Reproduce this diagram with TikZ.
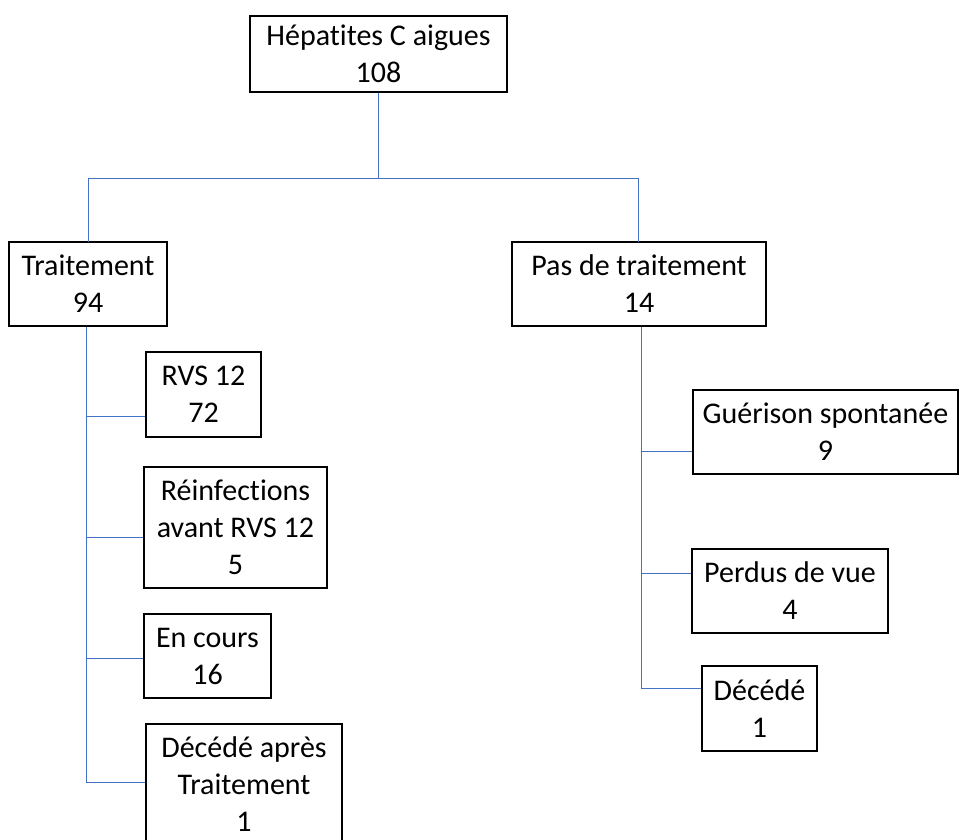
\documentclass[tikz,border=0pt]{standalone}
\usepackage{fontspec}
\setmainfont{Carlito}[Ligatures={NoCommon}]
\definecolor{linkblue}{HTML}{4472C4}
\tikzset{
  box/.style={draw=black, line width=1.1pt, align=center, inner sep=0pt,
    font=\fontsize{30}{37}\selectfont, fill=white},
  link/.style={draw=linkblue, line width=0.8pt}
}
\begin{document}
\begin{tikzpicture}[x=1pt,y=-1pt]
\useasboundingbox (0,0) rectangle (960,839);
\clip (0,0) rectangle (960,839);
% boxes
\node[box, minimum width=257, minimum height=76] (top) at (378.5,54) {Hépatites C aigues\\108};
\node[box, minimum width=158, minimum height=84] (trt) at (88,284) {Traitement\\94};
\node[box, minimum width=254, minimum height=84] (pas) at (639,284) {Pas de traitement\\14};
\node[box, minimum width=115, minimum height=85] (rvs) at (203.5,394.5) {RVS 12\\72};
\node[box, minimum width=183, minimum height=121] (rei) at (235.5,527.5) {Réinfections\\avant RVS 12\\5};
\node[box, minimum width=127, minimum height=84] (enc) at (207.5,656) {En cours\\16};
\node[box, minimum width=196, minimum height=121] (dap) at (244,784.5) {Décédé après\\Traitement\\1};
\node[box, minimum width=265, minimum height=84] (gue) at (825.5,432) {Guérison spontanée\\9};
\node[box, minimum width=196, minimum height=84] (per) at (790,591) {Perdus de vue\\4};
\node[box, minimum width=115, minimum height=85] (dec) at (759.5,708.5) {Décédé\\1};
% junctions
\coordinate (j) at (378,178);
\coordinate (tl) at (86,782);
\coordinate (tr) at (641,688);
% top level
\draw[link] (top.south -| j) -- (j);
\draw[link] (88,178) -- (638,178);
\draw[link] (88,178) -- (88,242);
\draw[link] (638,178) -- (638,242);
% left trunk
\draw[link] (trt.south -| tl) -- (tl);
\draw[link] (tl |- 0,416) -- (rvs.west |- 0,416);
\draw[link] (tl |- 0,537) -- (rei.west |- 0,537);
\draw[link] (tl |- 0,658) -- (enc.west |- 0,658);
\draw[link] (tl) -- (dap.west |- tl);
% right trunk
\draw[link] (pas.south -| tr) -- (tr);
\draw[link] (tr |- 0,451) -- (gue.west |- 0,451);
\draw[link] (tr |- 0,573) -- (per.west |- 0,573);
\draw[link] (tr) -- (dec.west |- tr);
\end{tikzpicture}
\end{document}
